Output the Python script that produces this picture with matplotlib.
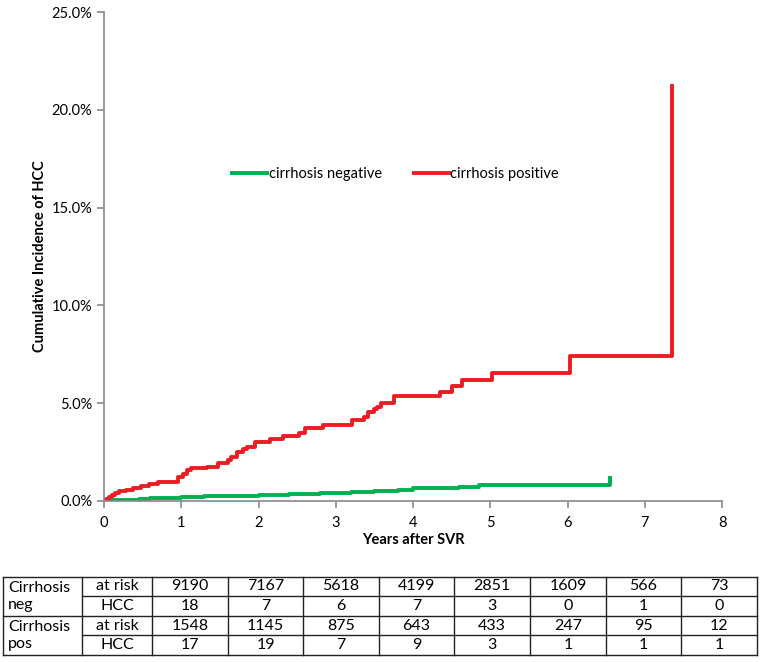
import numpy as np
import matplotlib.pyplot as plt
from matplotlib.ticker import FuncFormatter

plt.rcParams['font.family'] = ['Lato', 'DejaVu Sans']

# step curves: time (years) and cumulative incidence (%)
neg_time = [0, 0.10, 0.25, 0.45, 0.60, 0.80, 1.00, 1.30, 1.60, 2.00, 2.40, 2.80,
            3.20, 3.50, 3.80, 4.00, 4.30, 4.60, 4.85, 6.55, 6.55]
neg_cum = [0, 0.03, 0.07, 0.11, 0.15, 0.17, 0.20, 0.24, 0.27, 0.32, 0.36, 0.41,
           0.45, 0.50, 0.56, 0.64, 0.68, 0.73, 0.80, 0.80, 1.19]

pos_time = [0, 0.03, 0.06, 0.10, 0.14, 0.20, 0.28, 0.38, 0.48, 0.58, 0.70, 0.96,
            1.02, 1.07, 1.13, 1.33, 1.48, 1.60, 1.65, 1.72, 1.80, 1.85, 1.95,
            2.15, 2.32, 2.52, 2.60, 2.84, 3.21, 3.36, 3.42, 3.50, 3.53, 3.59,
            3.75, 4.35, 4.50, 4.63, 5.02, 6.03, 7.35, 7.35]
pos_cum = [0, 0.10, 0.20, 0.30, 0.42, 0.50, 0.58, 0.65, 0.75, 0.85, 0.99, 1.21,
           1.40, 1.58, 1.70, 1.76, 1.96, 2.10, 2.27, 2.52, 2.65, 2.78, 3.03,
           3.15, 3.32, 3.49, 3.75, 3.88, 4.14, 4.31, 4.57, 4.70, 4.79, 4.99,
           5.37, 5.59, 5.88, 6.19, 6.53, 7.41, 7.41, 21.2]

# numbers at risk table
group_labels = ['Cirrhosis\nneg', 'Cirrhosis\npos']
row_labels = ['at risk', 'HCC']
at_risk_neg = [9190, 7167, 5618, 4199, 2851, 1609, 566, 73]
hcc_neg = [18, 7, 6, 7, 3, 0, 1, 0]
at_risk_pos = [1548, 1145, 875, 643, 433, 247, 95, 12]
hcc_pos = [17, 19, 7, 9, 3, 1, 1, 1]

green = '#00B050'
red = '#ED1C24'
grey = '#898989'

W, H = 764, 662
fig = plt.figure(figsize=(W / 100, H / 100), dpi=100)

# main plot
ax = fig.add_axes([104 / W, (H - 501) / H, 618 / W, 489 / H])
ax.step(neg_time, neg_cum, where='post', color=green, lw=2.8, label='cirrhosis negative')
ax.step(pos_time, pos_cum, where='post', color=red, lw=2.8, label='cirrhosis positive')
ax.set_xlim(0, 8)
ax.set_ylim(0, 25)
ax.set_xticks(range(0, 9))
ax.set_yticks(np.arange(0, 26, 5))
ax.yaxis.set_major_formatter(FuncFormatter(lambda v, p: f'{v:.1f}%'))
for s in ['top', 'right']:
    ax.spines[s].set_visible(False)
for s in ['left', 'bottom']:
    ax.spines[s].set_color(grey)
    ax.spines[s].set_linewidth(1.2)
ax.tick_params(colors=grey, labelcolor='black', labelsize=10.5, length=5, width=1.2)
ax.tick_params(axis='x', pad=6)
ax.set_xlabel('Years after SVR', fontsize=10.5, fontweight='bold', labelpad=2)
ax.set_ylabel('Cumulative Incidence of HCC', fontsize=10.5, fontweight='bold', labelpad=3)
ax.legend(loc='center', bbox_to_anchor=(0.472, 0.669), ncol=2, frameon=False,
          fontsize=10.5, handlelength=2.4, handletextpad=0.1, columnspacing=2.2)

# table below
col_edges = [3, 82, 152, 228, 303, 379, 454, 530, 606, 681, 757]
row_edges = [577, 596, 616, 635, 655]
tax = fig.add_axes([col_edges[0] / W, (H - row_edges[-1]) / H,
                    (col_edges[-1] - col_edges[0]) / W, (row_edges[-1] - row_edges[0]) / H])
tax.set_xlim(col_edges[0], col_edges[-1])
tax.set_ylim(row_edges[-1], row_edges[0])
tax.axis('off')

lc = '#222222'
for x in col_edges:
    tax.plot([x, x], [row_edges[0], row_edges[-1]], color=lc, lw=1, clip_on=False)
for i, y in enumerate(row_edges):
    x0 = col_edges[0] if i in (0, 2, 4) else col_edges[1]
    tax.plot([x0, col_edges[-1]], [y, y], color=lc, lw=1, clip_on=False)

fs = 11.5
rows = [at_risk_neg, hcc_neg, at_risk_pos, hcc_pos]
for r, vals in enumerate(rows):
    yc = (row_edges[r] + row_edges[r + 1]) / 2
    tax.text((col_edges[1] + col_edges[2]) / 2, yc, row_labels[r % 2],
             ha='center', va='center', fontsize=fs)
    for c, v in enumerate(vals):
        xc = (col_edges[c + 2] + col_edges[c + 3]) / 2
        tax.text(xc, yc, str(v), ha='center', va='center', fontsize=fs)
for g, lab in enumerate(group_labels):
    top, bot = row_edges[2 * g], row_edges[2 * g + 2]
    tax.text(col_edges[0] + 5, (top + bot) / 2, lab, ha='left', va='center',
             fontsize=fs, linespacing=1.25)

fig.savefig('out.png', dpi=100)
